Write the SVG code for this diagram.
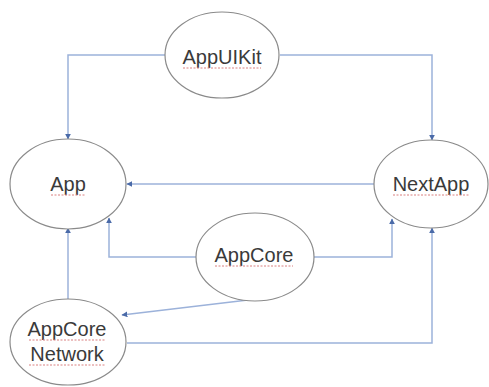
<svg xmlns="http://www.w3.org/2000/svg" width="489" height="387" viewBox="0 0 489 387">
<style>
.node ellipse{fill:#ffffff;stroke:#8a8a8a;stroke-width:1.2}
.node text{font-family:"Liberation Sans",Arial,sans-serif;font-size:20px;fill:#3a3a3a;text-anchor:middle}
.sq{stroke:#d98080;stroke-width:1;stroke-dasharray:2 1.5;fill:none}
#connectors path{fill:none;stroke:#9cb2da;stroke-width:1.5}
</style>
<defs>
<marker id="arr" viewBox="0 0 10 10" refX="9" refY="5" markerWidth="4" markerHeight="4" orient="auto" markerUnits="strokeWidth">
<path d="M0,0 L10,5 L0,10 z" fill="#4a6aa8"/>
</marker>
</defs>
<rect width="489" height="387" fill="#ffffff"/>
<g id="connectors">
<path d="M165,55 H68 V139" marker-end="url(#arr)"/>
<path d="M280,55 H432 V140" marker-end="url(#arr)"/>
<path d="M374,184 H127" marker-end="url(#arr)"/>
<path d="M196,257 H109 V218" marker-end="url(#arr)"/>
<path d="M314,257 H392 V219" marker-end="url(#arr)"/>
<path d="M248,300 L122,315" marker-end="url(#arr)"/>
<path d="M68,299 V228" marker-end="url(#arr)"/>
<path d="M127,343 H432 V228" marker-end="url(#arr)"/>
</g>
<g id="AppUIKit" class="node">
<ellipse cx="222" cy="55" rx="57" ry="43"/>
<text x="222" y="64">AppUIKit</text>
<path class="sq" d="M183,68 H261"/>
</g>
<g id="App" class="node">
<ellipse cx="68" cy="184" rx="58" ry="45"/>
<text x="68" y="191">App</text>
<path class="sq" d="M51,195 H85"/>
</g>
<g id="NextApp" class="node">
<ellipse cx="431" cy="184" rx="57" ry="44"/>
<text x="431" y="191">NextApp</text>
<path class="sq" d="M393,195 H470"/>
</g>
<g id="AppCore" class="node">
<ellipse cx="255" cy="257" rx="59" ry="44"/>
<text x="254" y="262">AppCore</text>
<path class="sq" d="M215,266 H293"/>
</g>
<g id="AppCoreNetwork" class="node">
<ellipse cx="68" cy="342" rx="58" ry="43"/>
<text x="67" y="336">AppCore</text>
<text x="67" y="361">Network</text>
<path class="sq" d="M29,340 H105"/>
<path class="sq" d="M29,365 H105"/>
</g>
</svg>
